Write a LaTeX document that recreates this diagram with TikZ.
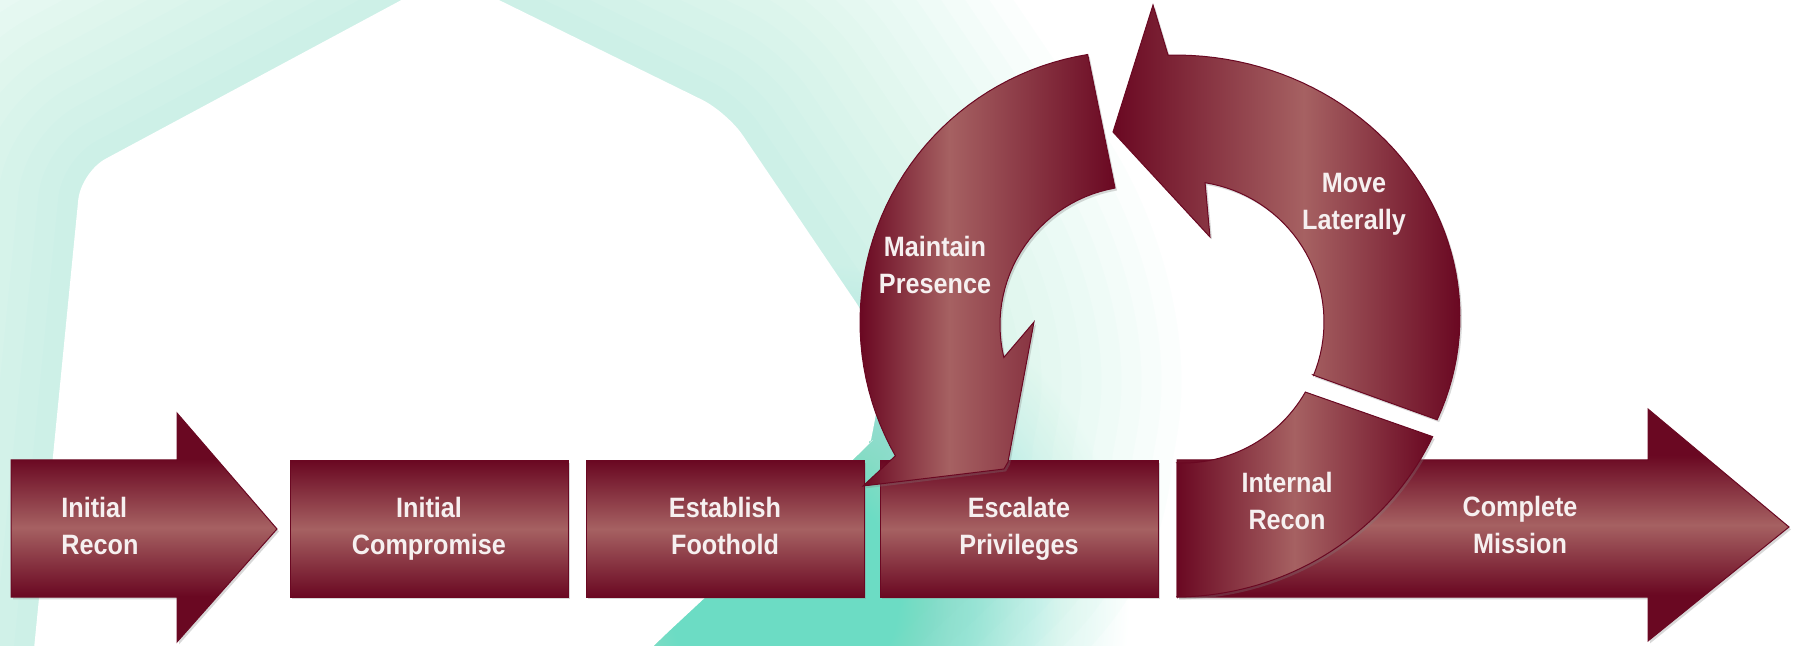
\documentclass[tikz,border=0pt]{standalone}
\usepackage{fontspec}
\newfontfamily\slabfont{Liberation Sans}[FakeStretch=0.9]
\usepackage{tikz}
\usetikzlibrary{positioning,shadows}

\definecolor{wine}{RGB}{106,8,34}
\definecolor{winelight}{RGB}{166,97,98}
\definecolor{mint}{RGB}{108,220,196}
\definecolor{labelwhite}{RGB}{246,240,240}

\pgfdeclareverticalshading{shaftshade}{100bp}{color(0bp)=(wine); color(35bp)=(wine); color(50bp)=(winelight); color(65bp)=(wine); color(100bp)=(wine)}
\pgfdeclarehorizontalshading{presenceshade}{100bp}{color(0bp)=(wine); color(25bp)=(wine); color(42.5bp)=(winelight); color(75bp)=(wine); color(100bp)=(wine)}
\pgfdeclarehorizontalshading{lateralshade}{100bp}{color(0bp)=(wine); color(25bp)=(wine); color(52.5bp)=(winelight); color(75bp)=(wine); color(100bp)=(wine)}
\pgfdeclarehorizontalshading{internalshade}{100bp}{color(0bp)=(wine); color(25bp)=(wine); color(48bp)=(winelight); color(75bp)=(wine); color(100bp)=(wine)}
\pgfdeclareradialshading{mintglow}{\pgfpoint{0bp}{0bp}}{color(0bp)=(mint); color(7bp)=(mint); color(14bp)=(mint!60!white); color(20bp)=(mint!20!white); color(25bp)=(white); color(50bp)=(white)}

\def\plateoutline{(27,720) -- (81,172) -- (448,-25) -- (727,112) -- (840,279) .. controls (872,326) and (884,370) .. (876,415) .. controls (872,435) and (864,449) .. (853,460) -- (653,646) -- (600,700) -- cycle}

\begin{document}
\begin{tikzpicture}[
  x=0.5pt, y=-0.5pt,
  steplabel/.style={text=labelwhite, align=center, inner sep=0pt,
    font=\slabfont\bfseries\fontsize{14pt}{18.5pt}\selectfont},
  stagebox/.style={steplabel, rectangle, draw=wine, line width=0.5pt, outer sep=0pt,
    minimum width=139pt, minimum height=68pt,
    top color=wine, bottom color=wine, middle color=winelight,
    drop shadow={shadow xshift=1pt, shadow yshift=-1.2pt, opacity=0.3}},
  piece/.style={draw=wine, line width=0.5pt,
    drop shadow={shadow xshift=1pt, shadow yshift=-1.2pt, opacity=0.3}},
]
\useasboundingbox (0,0) rectangle (1805,646);
\clip (0,0) rectangle (1805,646);
\fill[white] (0,0) rectangle (1805,646);
\shade[shading=mintglow] (790,600) circle[radius=340];
\foreach \w in {20,40,...,300}
  \draw[mint, line width=\w pt, opacity=0.025, line join=round, rounded corners=14pt] \plateoutline;
\fill[white, rounded corners=14pt] \plateoutline;

\shadedraw[piece, shading=shaftshade] (11,460) -- (177,460) -- (177,413) -- (277,529)
  -- (177,642) -- (177,597) -- (11,597) -- cycle;
\node[steplabel, align=left, anchor=west] (recon) at (61,529) {\strut Initial\\\strut Recon};

\node[stagebox] (compromise) at (429,529) {\strut Initial\\\strut Compromise};
\node[stagebox, right=9pt of compromise] (foothold) {\strut Establish\\\strut Foothold};
\node[stagebox, right=8pt of foothold] (escalate) {\strut Escalate\\\strut Privileges};

\shadedraw[piece, shading=shaftshade] (1177,460) -- (1648,460) -- (1648,409) -- (1789,527)
  -- (1648,641) -- (1648,597) -- (1177,597) -- cycle;

\shadedraw[piece, shading=internalshade] (1177,463) -- (1177,597)
  -- plot[domain=89.6:25.3, samples=40, variable=\t] ({1175+285*cos(\t)}, {317+280*sin(\t)})
  -- plot[domain=29.8:92.5, samples=30, variable=\t] ({1183+141*cos(\t)}, {322+141*sin(\t)})
  -- cycle;

\shadedraw[piece, shading=lateralshade] (1313,375)
  -- plot[domain=23.1:-91.4, samples=50, variable=\t] ({1175+285*cos(\t)}, {317+262*sin(\t)})
  -- (1153,5) -- (1113,132) -- (1210,237)
  -- plot[domain=-81:22.3, samples=35, variable=\t] ({1183+141*cos(\t)}, {322+141*sin(\t)})
  -- cycle;

\shadedraw[piece, shading=presenceshade] (1115,188)
  -- plot[domain=260.8:150.4, samples=45, variable=\t] ({1131+271*cos(\t)}, {322+271*sin(\t)})
  -- (863,486) -- (1004,469) -- (1008,462) -- (1034,322)
  -- plot[domain=166.5:260, samples=30, variable=\t] ({1139+139*cos(\t)}, {325+139*sin(\t)})
  -- cycle;

\node[steplabel] (presence) at (935,268) {\strut Maintain\\\strut Presence};
\node[steplabel] (lateral) at (1354,204) {\strut Move\\\strut Laterally};
\node[steplabel] (internal) at (1287,504) {\strut Internal\\\strut Recon};
\node[steplabel] (mission) at (1520,528) {\strut Complete\\\strut Mission};
\end{tikzpicture}
\end{document}
